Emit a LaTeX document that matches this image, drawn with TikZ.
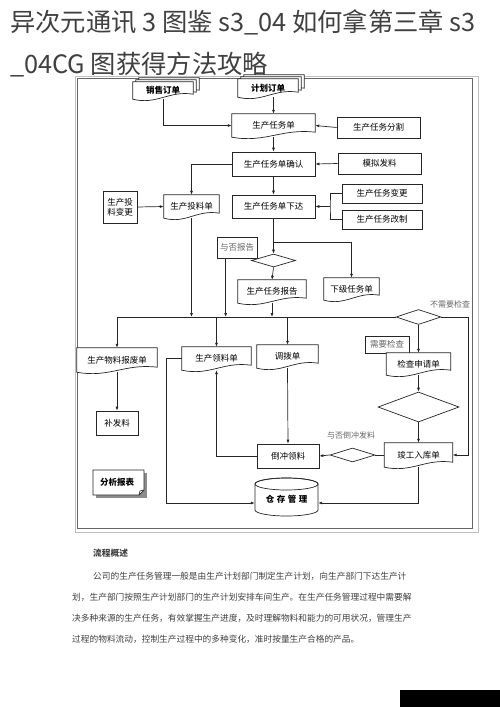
\documentclass[tikz,border=0pt]{standalone}
\usepackage{fontspec}
\setmainfont{Noto Sans CJK SC}
\usetikzlibrary{arrows.meta,calc,shapes.geometric,backgrounds}
\newcommand\docshape[2][]{%
  \draw[line, fill=white, #1] (#2.north west) -- (#2.north east) -- ($(#2.south east)+(0,-5)$)
    .. controls ($(#2.south west)!0.6!(#2.south east)+(0,-9)$)
    and ($(#2.south west)!0.4!(#2.south east)+(0,6)$) .. (#2.south west) -- cycle;}
\tikzset{
  font=\fontsize{8.5}{10}\selectfont,
  >={Latex[length=4pt,width=3pt]},
  line/.style={draw=black!85, line width=0.7pt},
  arr/.style={line, ->},
  wh/.style 2 args={minimum width=#1pt, minimum height=#2pt},
  box/.style={line, fill=white, inner sep=1pt},
  dia/.style={line, fill=white, shape=diamond, inner sep=0pt},
  doc/.style={inner sep=1pt, append after command={\pgfextra{\docshape{\tikzlastnode}}}},
  stack/.style={inner sep=1pt, append after command={\pgfextra{%
      \docshape[transform canvas={xshift=6pt,yshift=4pt}]{\tikzlastnode}%
      \docshape[transform canvas={xshift=3pt,yshift=2pt}]{\tikzlastnode}%
      \docshape{\tikzlastnode}}}},
  bold/.style={font=\fontsize{8.5}{10}\selectfont\bfseries},
  lab/.style={text=black!60, inner sep=1pt, font=\fontsize{8}{9}\selectfont},
  title/.style={text=black!75, inner sep=0pt, font=\fontsize{25.3}{30}\selectfont},
  para/.style={text=black!75, inner sep=0pt, anchor=west, font=\fontsize{8.7}{10}\selectfont},
}

\begin{document}
\begin{tikzpicture}[x=1pt,y=-1pt]
\useasboundingbox (0,0) rectangle (500,707);
% title
\node[title, anchor=base west] (t1) at (10,31) {异次元通讯 3 图鉴 s3\_04 如何拿第三章 s3};
\node[title, anchor=base west] (t2) at (10,73) {\_04CG 图获得方法攻略};
% top: orders and task
\node[stack, wh={60}{17}, bold] (sale) at (163,90.5) {销售订单};
\node[stack, wh={60}{18}, bold] (plan) at (268,88) {计划订单};
\node[doc, wh={83}{23}] (task) at (273.5,125.5) {生产任务单};
\node[box, wh={83}{21}] (split) at (378.5,127.5) {生产任务分割};
\node[box, wh={83}{24}] (confirm) at (273.5,164) {生产任务单确认};
\node[box, wh={83}{21}] (sim) at (379.5,163.5) {模拟发料};
\node[box, wh={83}{23}] (issue) at (273.5,206.5) {生产任务单下达};
\node[box, wh={80}{19}] (change) at (382,193.5) {生产任务变更};
\node[box, wh={80}{19}] (rework) at (382,219.5) {生产任务改制};
\node[doc, wh={55}{23}] (feed) at (191.5,206.5) {生产投料单};
\node[box, wh={34}{32}, align=center] (feedchg) at (120,207) {生产投\\料变更};
% report
\node[box, wh={40}{21}, text=black!60] (rep) at (237,247.5) {与否报告};
\node[dia, wh={44}{13}] (d1) at (273.5,260.5) {};
\node[doc, wh={68}{23}] (report) at (272,291.5) {生产任务报告};
\node[doc, wh={55}{22}] (sub) at (351.5,289) {下级任务单};
\node[dia, wh={45}{15}] (d2) at (418.5,317) {};
\node[lab] (nochk) at (450,304) {不需要检查};
% lower row
\node[doc, wh={80}{24}] (scrap) at (117,360) {生产物料报废单};
\node[box, wh={42}{24}] (supply) at (117,423) {补发料};
\node[doc, wh={69}{23}] (pick) at (216.5,358.5) {生产领料单};
\node[doc, wh={61}{23}] (transfer) at (287.5,356.5) {调拨单};
\node[box, wh={62}{24}] (backflush) at (288,456) {倒冲领料};
\node[box, wh={44}{17}, text=black!60] (chk) at (387,344.5) {需要检查};
\node[doc, wh={64}{22}] (apply) at (418.5,364) {检查申请单};
\node[dia, wh={81}{30}] (d3) at (418.5,407) {};
\node[doc, wh={68}{24}] (stock) at (418.5,455) {竣工入库单};
\node[dia, wh={45}{14}] (d4) at (352.5,455) {};
\node[lab] (bflab) at (351,435) {与否倒冲发料};
% store (cylinder) and report sheet
\draw[line, fill=white] (255,484) -- (255,510) arc[start angle=180, end angle=360, x radius=31.5pt, y radius=6pt]
  -- (318,484) arc[start angle=0, end angle=180, x radius=31.5pt, y radius=6pt] -- cycle;
\draw[line] (286.5,484) ellipse[x radius=31.5pt, y radius=6pt];
\node[bold, wh={63}{26}, inner sep=0pt] (store) at (286.5,499) {仓\hspace{2.5pt}存\hspace{2.5pt}管\hspace{2.5pt}理};
\fill[black!45] (96,473) rectangle (147,498);
\draw[line, fill=white] (93,470) -- (144,470) -- (144,490) -- (139,495) -- (93,495) -- cycle;
\draw[line] (139,495) -- (140,491) -- (144,490);
\node[bold] (anal) at (117,482) {分析报表};
% overview text
\node[para, font=\fontsize{8.7}{10}\selectfont\bfseries] (ptitle) at (93,553) {流程概述};
\node[para] (p1) at (93,576) {公司的生产任务管理一般是由生产计划部门制定生产计划，向生产部门下达生产计};
\node[para] (p2) at (72,597) {划，生产部门按照生产计划部门的生产计划安排车间生产。在生产任务管理过程中需要解};
\node[para] (p3) at (72,618) {决多种来源的生产任务，有效掌握生产进度，及时理解物料和能力的可用状况，管理生产};
\node[para] (p4) at (72,639) {过程的物料流动，控制生产过程中的多种变化，准时按量生产合格的产品。};
\fill[black] (400,690) rectangle (500,707);

\begin{scope}[on background layer]
% frame
\draw[black!25, line width=0.8pt] (75,76) rectangle (478,532);
\draw[black!60, line width=0.8pt] (77,78) rectangle (472,528);
% connectors
\draw[arr] (sale.south) |- (task.west);
\draw[arr] (task.north |- plan.south) -- (task.north);
\draw[arr] (split.west) -- (task.east);
\draw[arr] (task.south) -- (confirm.north);
\draw[arr] (sim.west) -- (confirm.east);
\draw[arr] (confirm.south) -- (issue.north);
\draw[arr] (confirm.west) -| (feed.north);
\draw[arr] (feedchg.east) -- (feed.west);
\coordinate (brk) at (330,206.5);
\draw[line] (change.west) -| (brk) |- (rework.west);
\draw[arr] (brk) -- (issue.east);
\draw[arr] (issue.south) -- (d1.north);
\coordinate (fork) at (273.5,242);
\draw[arr] (fork) -| (sub.north);
\draw[arr] (d1.south) -- (report.north);
\coordinate (bus) at (117,317);
\coordinate (repout) at ([xshift=9pt]rep.south west);
\draw[line] (bus) -- (d2.west);
\draw[arr] (report.south) -- (report.south |- bus);
\draw[arr] (feed.south) -- (feed.south |- bus);
\draw[arr] (repout) -- (repout |- bus);
\draw[arr] (bus) -- (scrap.north);
\draw[arr] (pick.north |- bus) -- (pick.north);
\draw[arr] (transfer.north |- bus) -- (transfer.north);
\draw[arr] (scrap.south) -- (supply.north);
\draw[arr] (transfer.south) -- (backflush.north);
\draw[arr] (backflush.west) -| (pick.south);
\draw[arr] (pick.west) -- ++(-15,0) |- ([yshift=-4pt]store.west);
\draw[arr] (stock.south) |- ([yshift=-4pt]store.east);
\draw[arr] (d2.south) -- (apply.north);
\coordinate (rt) at (468,317);
\draw[arr] (d2.east) -- (rt) |- (stock.east);
\draw[arr] (apply.south) -- (d3.north);
\draw[arr] (d3.south) -- (stock.north);
\draw[line] (stock.west) -- (d4.east);
\draw[arr] (d4.west) -- (backflush.east);
\end{scope}
\end{tikzpicture}
\end{document}
